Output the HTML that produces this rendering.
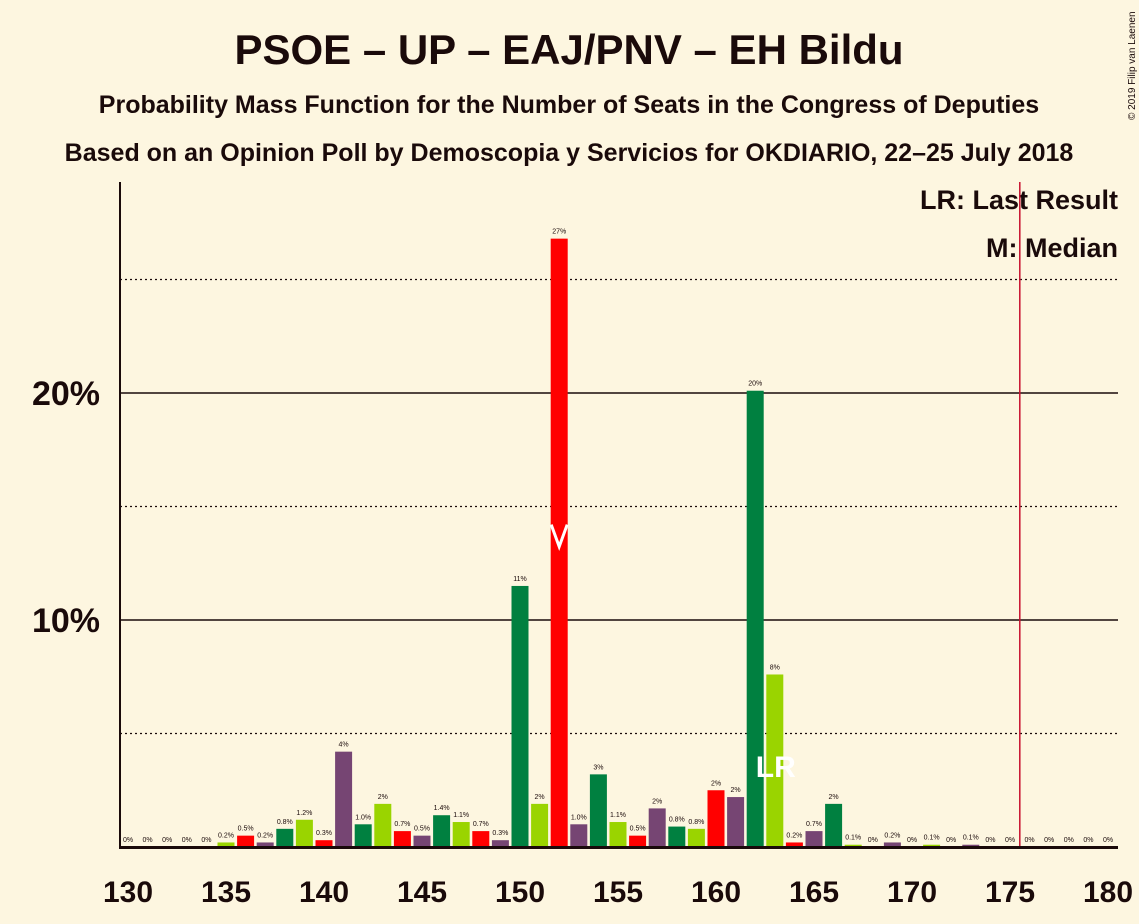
<!DOCTYPE html>
<html><head><meta charset="utf-8"><style>
body{margin:0;background:#fdf6e0;font-family:"Liberation Sans",sans-serif;}
</style></head><body>
<svg id="chart" width="1139" height="924" xmlns="http://www.w3.org/2000/svg" style="display:block;background:#fdf6e0">
<text x="569" y="64" text-anchor="middle" font-size="42" font-weight="bold" fill="#1a0a0a">PSOE – UP – EAJ/PNV – EH Bildu</text>
<text x="569" y="113" text-anchor="middle" font-size="25" font-weight="bold" fill="#1a0a0a">Probability Mass Function for the Number of Seats in the Congress of Deputies</text>
<text x="569" y="161" text-anchor="middle" font-size="25" font-weight="bold" fill="#1a0a0a">Based on an Opinion Poll by Demoscopia y Servicios for OKDIARIO, 22–25 July 2018</text>
<text x="1135" y="120" font-size="10" fill="#1a0a0a" transform="rotate(-90 1135 120)">© 2019 Filip van Laenen</text>
<text x="1118" y="209" text-anchor="end" font-size="27" font-weight="bold" fill="#1a0a0a">LR: Last Result</text>
<text x="1118" y="257" text-anchor="end" font-size="27" font-weight="bold" fill="#1a0a0a">M: Median</text>
<g id="grid"></g><g id="bars"></g><g id="axes"></g>
</svg>
<script>
const seats=[130,131,132,133,134,135,136,137,138,139,140,141,142,143,144,145,146,147,148,149,150,151,152,153,154,155,156,157,158,159,160,161,162,163,164,165,166,167,168,169,170,171,172,173,174,175,176,177,178,179,180];
const probs=[0,0,0,0,0,0.2,0.5,0.2,0.8,1.2,0.3,4.2,1.0,1.9,0.7,0.5,1.4,1.1,0.7,0.3,11.5,1.9,26.8,1.0,3.2,1.1,0.5,1.7,0.9,0.8,2.5,2.2,20.1,7.6,0.2,0.7,1.9,0.1,0,0.2,0,0.1,0,0.1,0,0,0,0,0,0,0];
const labels=["0%","0%","0%","0%","0%","0.2%","0.5%","0.2%","0.8%","1.2%","0.3%","4%","1.0%","2%","0.7%","0.5%","1.4%","1.1%","0.7%","0.3%","11%","2%","27%","1.0%","3%","1.1%","0.5%","2%","0.8%","0.8%","2%","2%","20%","8%","0.2%","0.7%","2%","0.1%","0%","0.2%","0%","0.1%","0%","0.1%","0%","0%","0%","0%","0%","0%","0%"];
const xTicks=[130,135,140,145,150,155,160,165,170,175,180];
const yTicks=[10,20];
const minorY=[5,15,25];
const median=152, lastResult=176;
const colors=["#008040","#9ad400","#ff0000","#764573"];
const NS="http://www.w3.org/2000/svg";
const X=s=>128+(s-130)*19.6;
const Y=v=>847-v*22.7;
function mk(tag,attrs,parent,text){const e=document.createElementNS(NS,tag);for(const k in attrs)e.setAttribute(k,attrs[k]);if(text!==undefined)e.textContent=text;parent.appendChild(e);return e;}
const grid=document.getElementById('grid'),bars=document.getElementById('bars'),axes=document.getElementById('axes');
minorY.forEach(v=>{const l=mk('line',{x1:120,x2:1118,y1:Y(v),y2:Y(v),stroke:'#1a0a0a','stroke-width':1.3,'stroke-dasharray':'2,3'},grid);

});
yTicks.forEach(v=>{const l=mk('line',{x1:120,x2:1118,y1:Y(v),y2:Y(v),stroke:'#1a0a0a','stroke-width':1.5},grid);


const t=mk('text',{x:100,y:Y(v)+12,'text-anchor':'end','font-size':34,'font-weight':'bold',fill:'#1a0a0a'},axes,v+'%');

});
seats.forEach((s,i)=>{const v=probs[i];
if(v>0){const r=mk('rect',{x:X(s)-8.5,y:Y(v),width:17,height:847-Y(v),fill:colors[(s-130)%4]},bars);

}
const t=mk('text',{x:X(s),y:Y(v)-5,'text-anchor':'middle','font-size':7,fill:'#1a0a0a'},bars,labels[i]);

});
const mi=seats.indexOf(median);
const m=mk('polyline',{points:`${X(median)-8},${Y(probs[mi])+535-239-10} ${X(median)},${Y(probs[mi])+535-239+12} ${X(median)+8},${Y(probs[mi])+535-239-10}`,fill:'none',stroke:'#fff','stroke-width':3},bars);


const lr=mk('text',{x:X(163)+1,y:777,'text-anchor':'middle','font-size':30,'font-weight':'bold',fill:'#fff'},bars,'LR');


const lrl=mk('line',{x1:X(lastResult)-9.8,x2:X(lastResult)-9.8,y1:182,y2:847,stroke:'#c8102e','stroke-width':1.5},axes);


const ya=mk('line',{x1:120,x2:120,y1:182,y2:848,stroke:'#1a0a0a','stroke-width':2},axes);


const xa=mk('line',{x1:119,x2:1118,y1:847.5,y2:847.5,stroke:'#1a0a0a','stroke-width':3},axes);


xTicks.forEach(s=>{const t=mk('text',{x:X(s),y:902,'text-anchor':'middle','font-size':30,'font-weight':'bold',fill:'#1a0a0a'},axes,s);

});
</script>
</body></html>
